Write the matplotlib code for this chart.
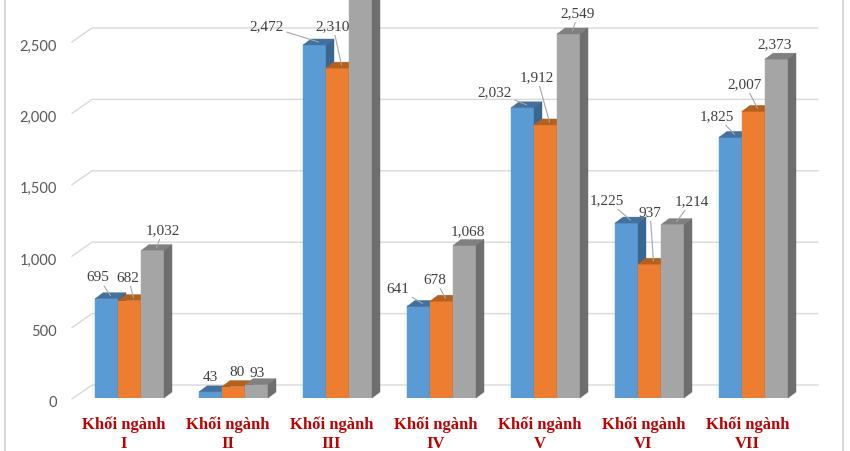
import matplotlib
matplotlib.use("Agg")
import matplotlib.pyplot as plt
from matplotlib.patches import Polygon, Rectangle
from matplotlib.lines import Line2D
import matplotlib.transforms as mtransforms

# ---------------- data ----------------
categories = ["I", "II", "III", "IV", "V", "VI", "VII"]
category_prefix = "Khối ngành"
series_blue = [695, 43, 2472, 641, 2032, 1225, 1825]
series_orange = [682, 80, 2310, 678, 1912, 937, 2007]
series_gray = [1032, 93, 2800, 1068, 2549, 1214, 2373]
tick_values = [0, 500, 1000, 1500, 2000, 2500]

# ---------------- layout / style ----------------
FIG_W, FIG_H, DPI = 850, 452, 100
AX_L, AX_R, AX_B = 72, 818, 399          # pixels
PX_PER_UNIT_X = 104.0
PX_PER_UNIT_Y = 0.1428
BAR_W_PX = 23
DEPTH_X_PX, DEPTH_Y_PX = 8, 6            # bar top/side depth
GRID_DX_PX, GRID_DY_PX = 20, 13          # back-wall offset for gridlines

front_colors = ["#5B9BD5", "#ED7D31", "#A5A5A5"]
top_colors = ["#41719C", "#B4611F", "#808080"]
side_colors = ["#3A6690", "#A0521B", "#6E6E6E"]

# label offsets in pixels relative to front-top centre of each bar (+y up)
label_offsets = [
    [(-8.5, 22), (-1.5, 23.6), (10.5, 20.6)],
    [(-0.5, 15), (3.5, 14.6), (0.5, 12.7)],
    [(-47.5, 19), (-4.5, 42), (0, 20)],
    [(-20.5, 17.5), (-6.5, 22), (3.5, 14.5)],
    [(-27.5, 15.8), (-8.5, 48), (9.5, 21)],
    [(-19.5, 23), (0.5, 52), (19.5, 23.6)],
    [(-13.5, 21.4), (-8.5, 27.4), (-1.5, 15)],
]

fig = plt.figure(figsize=(FIG_W / DPI, FIG_H / DPI), dpi=DPI)
fig.patch.set_facecolor("white")
ax = fig.add_axes([AX_L / FIG_W, (FIG_H - AX_B) / FIG_H,
                   (AX_R - AX_L) / FIG_W, AX_B / FIG_H])
x0 = -(129.5 - AX_L) / PX_PER_UNIT_X
ax.set_xlim(x0, x0 + (AX_R - AX_L) / PX_PER_UNIT_X)
ax.set_ylim(0, AX_B / PX_PER_UNIT_Y)
for s in ax.spines.values():
    s.set_visible(False)
ax.set_facecolor("none")

dxu = lambda px: px / PX_PER_UNIT_X
dyu = lambda px: px / PX_PER_UNIT_Y

# ---------------- 3D-looking gridlines ----------------
xl, xr = ax.get_xlim()
for v in tick_values:
    xs = [xl, xl + dxu(GRID_DX_PX), xr]
    ys = [v - dyu(1), v + dyu(GRID_DY_PX), v + dyu(GRID_DY_PX)]
    ax.add_line(Line2D(xs, ys, color="#D9D9D9", lw=1.0, zorder=0, clip_on=False))

# y tick labels
ax.set_yticks(tick_values)
ax.set_yticklabels([f"{v:,}" for v in tick_values])
ax.tick_params(axis="y", length=0, pad=(AX_L - 57) * 72 / DPI,
               labelsize=10.5, labelcolor="#595959")
shift = mtransforms.ScaledTranslation(0, -3 / DPI, fig.dpi_scale_trans)
for lab in ax.get_yticklabels():
    lab.set_fontfamily("Lato")
    lab.set_transform(lab.get_transform() + shift)
ax.set_xticks([])

# ---------------- bars ----------------
w = dxu(BAR_W_PX)
ddx, ddy = dxu(DEPTH_X_PX), dyu(DEPTH_Y_PX)
all_series = [series_blue, series_orange, series_gray]
for i in range(len(categories)):
    for j, series in enumerate(all_series):
        v = series[i]
        xc = i + (j - 1) * w
        xa, xb = xc - w / 2, xc + w / 2
        z = 2 + i * 3 + j
        ax.add_patch(Rectangle((xa, 0), w, v, facecolor=front_colors[j],
                               edgecolor=front_colors[j], lw=0.3, zorder=z))
        ax.add_patch(Polygon([(xa, v), (xb, v), (xb + ddx, v + ddy), (xa + ddx, v + ddy)],
                             closed=True, facecolor=top_colors[j],
                             edgecolor=top_colors[j], lw=0.3, zorder=z))
        ax.add_patch(Polygon([(xb, 0), (xb, v), (xb + ddx, v + ddy), (xb + ddx, ddy)],
                             closed=True, facecolor=side_colors[j],
                             edgecolor=side_colors[j], lw=0.3, zorder=z))
        # data label
        ox, oy = label_offsets[i][j]
        ox2, oy2 = ox - DEPTH_X_PX / 2, oy - DEPTH_Y_PX / 2
        need_leader = (oy2 - 7 > 8) or abs(ox2) > 14
        arrow = dict(arrowstyle="-", color="#A6A6A6", lw=0.8,
                     shrinkA=0, shrinkB=0) if need_leader else None
        ax.annotate(f"{v:,}", xy=(xc + ddx / 2, v + ddy / 2),
                    xytext=(ox2, oy2), textcoords="offset pixels",
                    ha="center", va="center", fontsize=11,
                    family="Liberation Serif", color="#404040",
                    arrowprops=arrow, zorder=40, annotation_clip=True)

# ---------------- category labels ----------------
xt = ax.get_xaxis_transform()
for i, c in enumerate(categories):
    xpos = i - dxu(6)
    for line, off in ((category_prefix, -30), (c, -49)):
        tr = xt + mtransforms.ScaledTranslation(0, off / DPI, fig.dpi_scale_trans)
        ax.text(xpos, 0, line, transform=tr, ha="center", va="baseline",
                fontsize=12, fontweight="bold", family="Liberation Serif",
                color="#C00000", clip_on=False)

# chart frame lines
for xp in (5, 843):
    fig.add_artist(Line2D([xp / FIG_W, xp / FIG_W], [0, 1], transform=fig.transFigure,
                          color="#D9D9D9", lw=1.5))

fig.savefig("out.png", dpi=DPI)
